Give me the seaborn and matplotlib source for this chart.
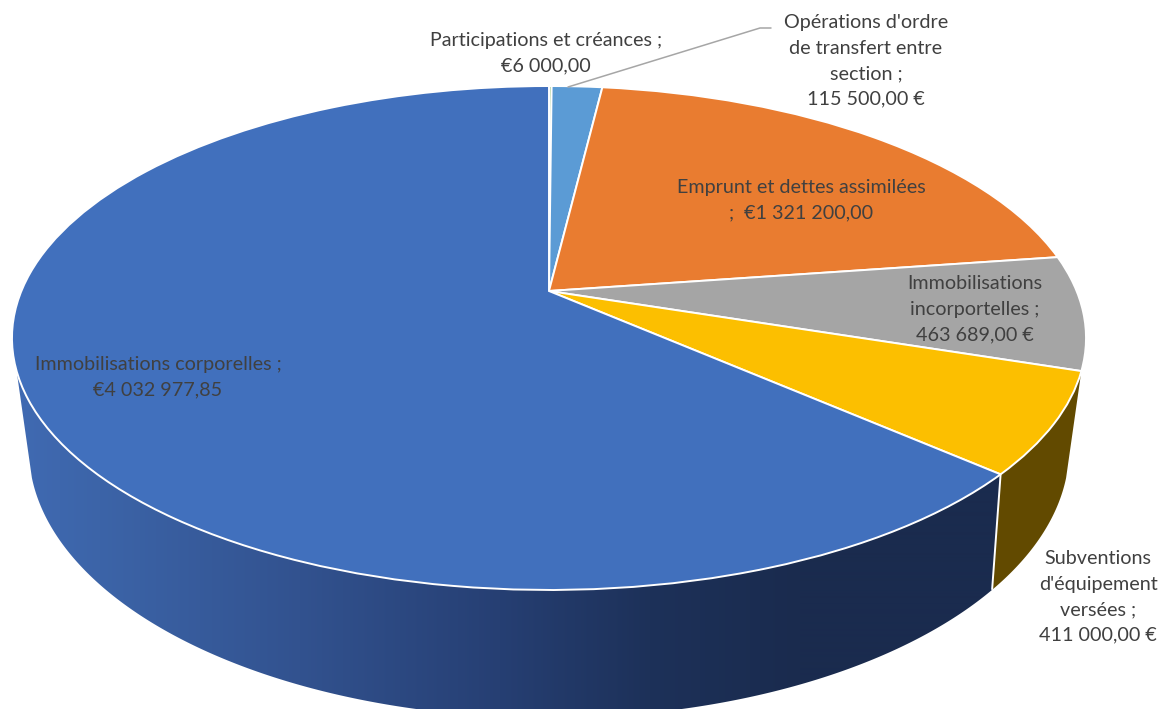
import numpy as np
import matplotlib
matplotlib.use("Agg")
import matplotlib.pyplot as plt
from matplotlib.transforms import Transform
from matplotlib.patches import Polygon
import seaborn as sns

# ---- data (clockwise from 12 o'clock) ----
categories = ["Participations et créances", "Opérations d'ordre de transfert entre section",
              "Emprunt et dettes assimilées", "Immobilisations incorportelles",
              "Subventions d'équipement versées", "Immobilisations corporelles"]
amounts = [6000.00, 115500.00, 1321200.00, 463689.00, 411000.00, 4032977.85]
label_texts = ["Participations et créances ;\n€6 000,00",
               "Opérations d'ordre\nde transfert entre\nsection ;\n115 500,00 €",
               "Emprunt et dettes assimilées\n;  €1 321 200,00",
               "Immobilisations\nincorportelles ;\n463 689,00 €",
               "Subventions\nd'équipement\nversées ;\n411 000,00 €",
               "Immobilisations corporelles ;\n€4 032 977,85"]
top_colors = ["#70ad47", "#5b9bd5", "#e97c30", "#a5a5a5", "#fcbf00", "#4170bd"]

# ---- layout / style ----
label_xy = [(546, 53), (866, 61), (801, 200), (975, 309), (1098, 597), (158, 377)]
TOP = dict(cx=549, cy=291, A=527.6, B=243.2, k=0.1865)
BOT = dict(cx=549, cy=392.6, A=508.5, B=257.0, k=0.21)
WALL_YELLOW = "#624a00"
grad_x = [20, 100, 300, 500, 650, 800, 1000]
grad_rgb = np.array([[64, 106, 178], [60, 100, 168], [50, 82, 143], [38, 63, 115],
                     [29, 49, 89], [26, 43, 78], [26, 43, 78]]) / 255
TEXT = "#404040"

sns.set_theme(style="white")
plt.rcParams["font.family"] = ["Lato", "DejaVu Sans"]


def project(x, y, p):
    w = 1 + p["k"] * y
    return p["cx"] + p["A"] * x / w, p["cy"] - p["B"] * y / w


class Perspective(Transform):
    input_dims = output_dims = 2
    is_separable = False
    has_inverse = False

    def __init__(self, p):
        super().__init__()
        self.p = p

    def transform_non_affine(self, values):
        v = np.asarray(values, float)
        px, py = project(v[:, 0], v[:, 1], self.p)
        return np.column_stack([px, py])


fig = plt.figure(figsize=(11.62, 7.09), dpi=100, facecolor="white")
ax = fig.add_axes([0, 0, 1, 1])

palette = sns.color_palette(top_colors)
wedges, _ = ax.pie(amounts, colors=palette, startangle=90, counterclock=False,
                   wedgeprops=dict(edgecolor="white", linewidth=1.4, zorder=3))
persp = Perspective(TOP)
for w in wedges:
    w.set_transform(persp + ax.transData)

# side wall, from the cumulative shares
fractions = np.cumsum(amounts) / np.sum(amounts)
th_yellow_start = 2 * np.pi * fractions[3]
th_yellow_end = 2 * np.pi * fractions[4]
th_left = 2 * np.pi - th_yellow_start


def wall_outline(t0, t1, n=300):
    ts = np.linspace(t0, t1, n)
    ux, uy = project(np.sin(ts), np.cos(ts), TOP)
    lx, ly = project(np.sin(ts), np.cos(ts), BOT)
    return np.column_stack([np.r_[ux, lx[::-1]], np.r_[uy, ly[::-1]]])


ax.add_patch(Polygon(wall_outline(th_yellow_start, th_yellow_end), closed=True,
                     facecolor=WALL_YELLOW, edgecolor="none", zorder=1))

blue_patch = Polygon(wall_outline(th_yellow_end, th_left), closed=True,
                     facecolor="none", edgecolor="none", zorder=1)
ax.add_patch(blue_patch)
xs = np.arange(0, 1162)
grad = np.stack([np.interp(xs, grad_x, grad_rgb[:, c]) for c in range(3)], axis=-1)[None, :, :]
img = ax.imshow(grad, extent=(0, 1162, 720, 300), aspect="auto", interpolation="bilinear", zorder=1)
img.set_clip_path(blue_patch)

ux, uy = project(np.sin(th_yellow_end), np.cos(th_yellow_end), TOP)
lx, ly = project(np.sin(th_yellow_end), np.cos(th_yellow_end), BOT)
ax.plot([ux, lx], [uy, ly], color="white", lw=1.4, zorder=2, solid_capstyle="butt")

# leader line
ax.plot([568, 760, 771], [87, 28, 28], color="#a6a6a6", lw=1.1, zorder=4)

for txt, (x, y) in zip(label_texts, label_xy):
    ax.text(x, y, txt, ha="center", va="center", fontsize=14.2, color=TEXT,
            linespacing=1.6, zorder=5)

ax.set_aspect("auto")
ax.set_xlim(0, 1162)
ax.set_ylim(709, 0)
ax.set_axis_off()

fig.savefig("out.png", dpi=100, facecolor="white")
